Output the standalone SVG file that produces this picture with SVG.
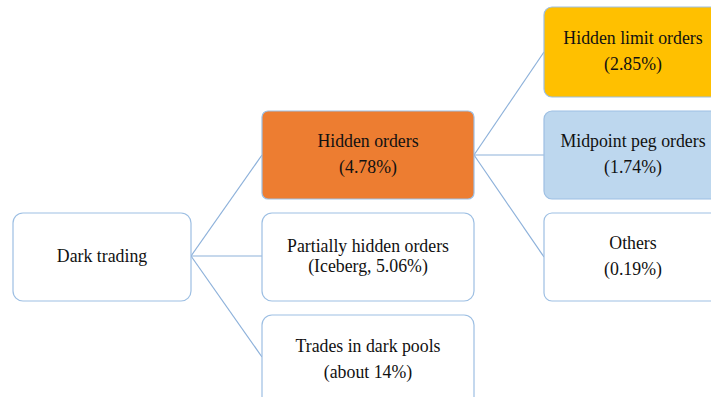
<svg xmlns="http://www.w3.org/2000/svg" width="711" height="397" viewBox="0 0 711 397">
<style>
.box{stroke:#9DBFE3;stroke-width:1.2;}
.w{fill:#FFFFFF;}
.c{stroke:#8DB1DA;stroke-width:1.2;fill:none;}
</style>
<rect width="711" height="397" fill="#FFFFFF"/>
<g id="connectors">
<line class="c" x1="191" y1="256" x2="262" y2="155"/>
<line class="c" x1="191" y1="256" x2="262" y2="256"/>
<line class="c" x1="191" y1="256" x2="262" y2="357"/>
<line class="c" x1="474" y1="155" x2="544" y2="52"/>
<line class="c" x1="474" y1="155" x2="544" y2="155"/>
<line class="c" x1="474" y1="155" x2="544" y2="257"/>
</g>
<g font-family="Liberation Serif, Times New Roman, serif" font-size="17.8" fill="#111" text-anchor="middle">
<g id="dark-trading">
<rect class="box w" x="13" y="213" width="178" height="88" rx="10"/>
<text x="102" y="262">Dark trading</text>
</g>
<g id="hidden-orders">
<rect class="box" fill="#ED7D31" x="262" y="111" width="212" height="88" rx="6"/>
<text x="368" y="147">Hidden orders</text>
<text x="368" y="173">(4.78%)</text>
</g>
<g id="partially-hidden">
<rect class="box w" x="262" y="213" width="212" height="88" rx="10"/>
<text x="368" y="252">Partially hidden orders</text>
<text x="368" y="272">(Iceberg, 5.06%)</text>
</g>
<g id="dark-pools">
<rect class="box w" x="262" y="315" width="212" height="100" rx="10"/>
<text x="368" y="352">Trades in dark pools</text>
<text x="368" y="378">(about 14%)</text>
</g>
<g id="hidden-limit">
<rect class="box" fill="#FFC000" x="544" y="7" width="180" height="90" rx="8"/>
<text x="633" y="44">Hidden limit orders</text>
<text x="633" y="70">(2.85%)</text>
</g>
<g id="midpoint-peg">
<rect class="box" fill="#BDD7EE" x="544" y="111" width="180" height="88" rx="8"/>
<text x="633" y="147">Midpoint peg orders</text>
<text x="633" y="173">(1.74%)</text>
</g>
<g id="others">
<rect class="box w" x="544" y="213" width="180" height="88" rx="8"/>
<text x="633" y="249">Others</text>
<text x="633" y="275">(0.19%)</text>
</g>
</g>
</svg>
